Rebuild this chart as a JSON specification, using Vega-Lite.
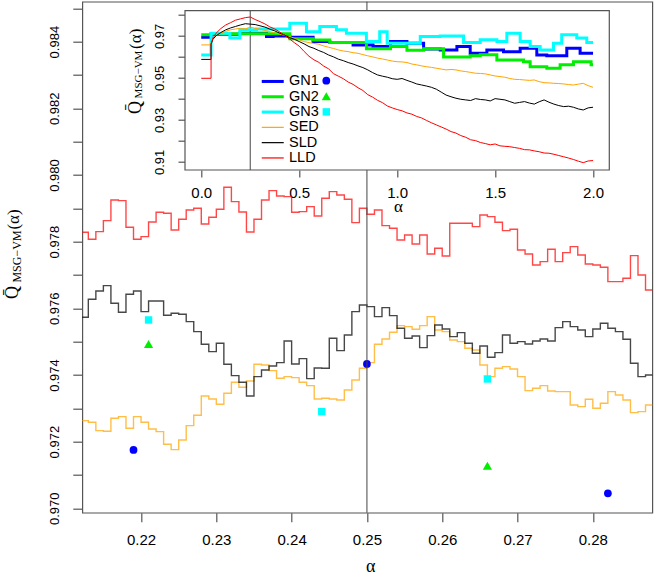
{
"$schema": "https://vega.github.io/schema/vega-lite/v6.json",
"width": 570, "height": 511,
"autosize": {"type": "none"},
"padding": {"left": 82.3, "top": 1.7, "right": 1.7, "bottom": 63.3},
"background": "white",
"config": {
  "view": {"stroke": "#555", "strokeWidth": 1.2},
  "axis": {"grid": false, "domain": false, "labelFont": "Liberation Sans", "labelColor": "#000", "tickColor": "#555", "tickWidth": 1.2, "titleFont": "Liberation Serif", "titleFontWeight": "normal", "titleColor": "#000"},
  "legend": {"labelFont": "Liberation Sans", "labelColor": "#000", "padding": 0}
},
"datasets": {
  "main": [
    {"a":0.212,"SED":0.97263,"SLD":0.97573,"LLD":0.97828},
    {"a":0.213,"SED":0.97258,"SLD":0.97627,"LLD":0.97807},
    {"a":0.214,"SED":0.97233,"SLD":0.97652,"LLD":0.97830},
    {"a":0.215,"SED":0.97231,"SLD":0.97668,"LLD":0.97863},
    {"a":0.216,"SED":0.97270,"SLD":0.97615,"LLD":0.97925},
    {"a":0.217,"SED":0.97275,"SLD":0.97588,"LLD":0.97923},
    {"a":0.218,"SED":0.97240,"SLD":0.97642,"LLD":0.97843},
    {"a":0.219,"SED":0.97275,"SLD":0.97652,"LLD":0.97807},
    {"a":0.220,"SED":0.97258,"SLD":0.97590,"LLD":0.97815},
    {"a":0.221,"SED":0.97238,"SLD":0.97622,"LLD":0.97859},
    {"a":0.222,"SED":0.97230,"SLD":0.97622,"LLD":0.97888},
    {"a":0.223,"SED":0.97192,"SLD":0.97579,"LLD":0.97885},
    {"a":0.224,"SED":0.97176,"SLD":0.97585,"LLD":0.97835},
    {"a":0.225,"SED":0.97205,"SLD":0.97582,"LLD":0.97867},
    {"a":0.226,"SED":0.97248,"SLD":0.97560,"LLD":0.97895},
    {"a":0.227,"SED":0.97279,"SLD":0.97530,"LLD":0.97900},
    {"a":0.228,"SED":0.97337,"SLD":0.97492,"LLD":0.97853},
    {"a":0.229,"SED":0.97328,"SLD":0.97470,"LLD":0.97873},
    {"a":0.230,"SED":0.97312,"SLD":0.97495,"LLD":0.97897},
    {"a":0.231,"SED":0.97345,"SLD":0.97432,"LLD":0.97963},
    {"a":0.232,"SED":0.97378,"SLD":0.97398,"LLD":0.97920},
    {"a":0.233,"SED":0.97363,"SLD":0.97378,"LLD":0.97889},
    {"a":0.234,"SED":0.97382,"SLD":0.97337,"LLD":0.97829},
    {"a":0.235,"SED":0.97432,"SLD":0.97395,"LLD":0.97867},
    {"a":0.236,"SED":0.97430,"SLD":0.97415,"LLD":0.97925},
    {"a":0.237,"SED":0.97413,"SLD":0.97427,"LLD":0.97953},
    {"a":0.238,"SED":0.97390,"SLD":0.97437,"LLD":0.97937},
    {"a":0.239,"SED":0.97395,"SLD":0.97502,"LLD":0.97935},
    {"a":0.240,"SED":0.97392,"SLD":0.97433,"LLD":0.97888},
    {"a":0.241,"SED":0.97378,"SLD":0.97449,"LLD":0.97890},
    {"a":0.242,"SED":0.97368,"SLD":0.97389,"LLD":0.97905},
    {"a":0.243,"SED":0.97328,"SLD":0.97421,"LLD":0.97877},
    {"a":0.244,"SED":0.97330,"SLD":0.97420,"LLD":0.97930},
    {"a":0.245,"SED":0.97328,"SLD":0.97510,"LLD":0.97950},
    {"a":0.246,"SED":0.97325,"SLD":0.97473,"LLD":0.97940},
    {"a":0.247,"SED":0.97355,"SLD":0.97520,"LLD":0.97927},
    {"a":0.248,"SED":0.97385,"SLD":0.97590,"LLD":0.97857},
    {"a":0.249,"SED":0.97420,"SLD":0.97610,"LLD":0.97900},
    {"a":0.250,"SED":0.97437,"SLD":0.97605,"LLD":0.97882},
    {"a":0.251,"SED":0.97492,"SLD":0.97575,"LLD":0.97895},
    {"a":0.252,"SED":0.97508,"SLD":0.97602,"LLD":0.97848},
    {"a":0.253,"SED":0.97528,"SLD":0.97578,"LLD":0.97840},
    {"a":0.254,"SED":0.97548,"SLD":0.97540,"LLD":0.97805},
    {"a":0.255,"SED":0.97545,"SLD":0.97510,"LLD":0.97820},
    {"a":0.256,"SED":0.97537,"SLD":0.97517,"LLD":0.97793},
    {"a":0.257,"SED":0.97548,"SLD":0.97482,"LLD":0.97820},
    {"a":0.258,"SED":0.97575,"SLD":0.97518,"LLD":0.97763},
    {"a":0.259,"SED":0.97535,"SLD":0.97550,"LLD":0.97780},
    {"a":0.260,"SED":0.97530,"SLD":0.97538,"LLD":0.97757},
    {"a":0.261,"SED":0.97505,"SLD":0.97515,"LLD":0.97855},
    {"a":0.262,"SED":0.97500,"SLD":0.97527,"LLD":0.97855},
    {"a":0.263,"SED":0.97480,"SLD":0.97495,"LLD":0.97855},
    {"a":0.264,"SED":0.97475,"SLD":0.97465,"LLD":0.97845},
    {"a":0.265,"SED":0.97430,"SLD":0.97487,"LLD":0.97880},
    {"a":0.266,"SED":0.97395,"SLD":0.97453,"LLD":0.97875},
    {"a":0.267,"SED":0.97420,"SLD":0.97467,"LLD":0.97858},
    {"a":0.268,"SED":0.97425,"SLD":0.97520,"LLD":0.97833},
    {"a":0.269,"SED":0.97418,"SLD":0.97495,"LLD":0.97837},
    {"a":0.270,"SED":0.97395,"SLD":0.97500,"LLD":0.97775},
    {"a":0.271,"SED":0.97353,"SLD":0.97493,"LLD":0.97763},
    {"a":0.272,"SED":0.97360,"SLD":0.97502,"LLD":0.97730},
    {"a":0.273,"SED":0.97368,"SLD":0.97508,"LLD":0.97740},
    {"a":0.274,"SED":0.97352,"SLD":0.97502,"LLD":0.97777},
    {"a":0.275,"SED":0.97350,"SLD":0.97542,"LLD":0.97740},
    {"a":0.276,"SED":0.97350,"SLD":0.97560,"LLD":0.97767},
    {"a":0.277,"SED":0.97310,"SLD":0.97545,"LLD":0.97785},
    {"a":0.278,"SED":0.97305,"SLD":0.97535,"LLD":0.97760},
    {"a":0.279,"SED":0.97327,"SLD":0.97515,"LLD":0.97733},
    {"a":0.280,"SED":0.97300,"SLD":0.97538,"LLD":0.97730},
    {"a":0.281,"SED":0.97315,"SLD":0.97555,"LLD":0.97723},
    {"a":0.282,"SED":0.97350,"SLD":0.97540,"LLD":0.97680},
    {"a":0.283,"SED":0.97340,"SLD":0.97530,"LLD":0.97680},
    {"a":0.284,"SED":0.97325,"SLD":0.97507,"LLD":0.97690},
    {"a":0.285,"SED":0.97287,"SLD":0.97435,"LLD":0.97758},
    {"a":0.286,"SED":0.97290,"SLD":0.97395,"LLD":0.97700},
    {"a":0.287,"SED":0.97310,"SLD":0.97400,"LLD":0.97655},
    {"a":0.288,"SED":0.97310,"SLD":0.97400,"LLD":0.97655}
  ],
  "pts": [
    {"a":0.219,"q":0.97175,"s":"GN1"},
    {"a":0.250,"q":0.97433,"s":"GN1"},
    {"a":0.282,"q":0.97045,"s":"GN1"},
    {"a":0.221,"q":0.97493,"s":"GN2"},
    {"a":0.266,"q":0.97128,"s":"GN2"},
    {"a":0.221,"q":0.97565,"s":"GN3"},
    {"a":0.244,"q":0.97290,"s":"GN3"},
    {"a":0.266,"q":0.97388,"s":"GN3"}
  ],
  "inset": [
    {"a":0,"SED":0.9657,"SLD":0.9588,"LLD":0.9498},
    {"a":0.05,"SED":0.9657,"SLD":0.9588,"LLD":0.9498},
    {"a":0.0501,"SED":0.9672,"SLD":0.966,"LLD":0.9662},
    {"a":0.06,"SED":0.9688,"SLD":0.9684,"LLD":0.969},
    {"a":0.075,"SED":0.97,"SLD":0.97,"LLD":0.9712},
    {"a":0.1,"SED":0.9713,"SLD":0.9716,"LLD":0.9735},
    {"a":0.125,"SED":0.9722,"SLD":0.9729,"LLD":0.9752},
    {"a":0.15,"SED":0.9729,"SLD":0.9738,"LLD":0.9763},
    {"a":0.175,"SED":0.9733,"SLD":0.9745,"LLD":0.9775},
    {"a":0.2,"SED":0.9736,"SLD":0.9752,"LLD":0.9781},
    {"a":0.225,"SED":0.9733,"SLD":0.9758,"LLD":0.9787},
    {"a":0.25,"SED":0.9742,"SLD":0.9756,"LLD":0.979},
    {"a":0.275,"SED":0.9736,"SLD":0.9754,"LLD":0.9778},
    {"a":0.3,"SED":0.9732,"SLD":0.9748,"LLD":0.9768},
    {"a":0.325,"SED":0.9726,"SLD":0.9742,"LLD":0.9757},
    {"a":0.35,"SED":0.972,"SLD":0.9732,"LLD":0.9743},
    {"a":0.375,"SED":0.9714,"SLD":0.9724,"LLD":0.9733},
    {"a":0.4,"SED":0.9709,"SLD":0.9713,"LLD":0.9719},
    {"a":0.425,"SED":0.9703,"SLD":0.9704,"LLD":0.9703},
    {"a":0.45,"SED":0.9697,"SLD":0.9692,"LLD":0.9686},
    {"a":0.475,"SED":0.9689,"SLD":0.9684,"LLD":0.9668},
    {"a":0.5,"SED":0.9681,"SLD":0.9673,"LLD":0.9651},
    {"a":0.525,"SED":0.9673,"SLD":0.9662,"LLD":0.9626},
    {"a":0.55,"SED":0.9668,"SLD":0.9649,"LLD":0.9603},
    {"a":0.575,"SED":0.9664,"SLD":0.9641,"LLD":0.9586},
    {"a":0.6,"SED":0.966,"SLD":0.963,"LLD":0.9574},
    {"a":0.625,"SED":0.9652,"SLD":0.9621,"LLD":0.9556},
    {"a":0.65,"SED":0.9646,"SLD":0.9609,"LLD":0.9543},
    {"a":0.675,"SED":0.964,"SLD":0.96,"LLD":0.952},
    {"a":0.7,"SED":0.9633,"SLD":0.9589,"LLD":0.9508},
    {"a":0.725,"SED":0.9628,"SLD":0.9582,"LLD":0.9496},
    {"a":0.75,"SED":0.9625,"SLD":0.9573,"LLD":0.948},
    {"a":0.775,"SED":0.962,"SLD":0.9566,"LLD":0.9469},
    {"a":0.8,"SED":0.9617,"SLD":0.9557,"LLD":0.9453},
    {"a":0.825,"SED":0.9611,"SLD":0.9549,"LLD":0.944},
    {"a":0.85,"SED":0.9605,"SLD":0.9538,"LLD":0.942},
    {"a":0.875,"SED":0.96,"SLD":0.9525,"LLD":0.9408},
    {"a":0.9,"SED":0.9594,"SLD":0.9514,"LLD":0.9393},
    {"a":0.925,"SED":0.959,"SLD":0.9508,"LLD":0.9382},
    {"a":0.95,"SED":0.9585,"SLD":0.9503,"LLD":0.9366},
    {"a":0.975,"SED":0.958,"SLD":0.9496,"LLD":0.9357},
    {"a":1.0,"SED":0.9577,"SLD":0.9493,"LLD":0.9349},
    {"a":1.025,"SED":0.9576,"SLD":0.9497,"LLD":0.9343},
    {"a":1.05,"SED":0.9573,"SLD":0.9488,"LLD":0.9333},
    {"a":1.075,"SED":0.9566,"SLD":0.948,"LLD":0.9327},
    {"a":1.1,"SED":0.9562,"SLD":0.9471,"LLD":0.9316},
    {"a":1.125,"SED":0.9557,"SLD":0.9466,"LLD":0.9309},
    {"a":1.15,"SED":0.9553,"SLD":0.9461,"LLD":0.9297},
    {"a":1.175,"SED":0.955,"SLD":0.9455,"LLD":0.9286},
    {"a":1.2,"SED":0.9546,"SLD":0.9446,"LLD":0.9276},
    {"a":1.225,"SED":0.9542,"SLD":0.9432,"LLD":0.9266},
    {"a":1.25,"SED":0.9538,"SLD":0.9418,"LLD":0.9256},
    {"a":1.275,"SED":0.954,"SLD":0.941,"LLD":0.9244},
    {"a":1.3,"SED":0.9538,"SLD":0.9403,"LLD":0.9237},
    {"a":1.325,"SED":0.9533,"SLD":0.9398,"LLD":0.9225},
    {"a":1.35,"SED":0.953,"SLD":0.9395,"LLD":0.9217},
    {"a":1.375,"SED":0.9526,"SLD":0.9392,"LLD":0.9205},
    {"a":1.4,"SED":0.9522,"SLD":0.9401,"LLD":0.9201},
    {"a":1.425,"SED":0.9521,"SLD":0.9397,"LLD":0.9192},
    {"a":1.45,"SED":0.9519,"SLD":0.9395,"LLD":0.9187},
    {"a":1.475,"SED":0.9514,"SLD":0.939,"LLD":0.9181},
    {"a":1.5,"SED":0.9509,"SLD":0.9401,"LLD":0.9185},
    {"a":1.525,"SED":0.9506,"SLD":0.9398,"LLD":0.9176},
    {"a":1.55,"SED":0.9503,"SLD":0.9395,"LLD":0.9174},
    {"a":1.575,"SED":0.9497,"SLD":0.9387,"LLD":0.9172},
    {"a":1.6,"SED":0.9493,"SLD":0.9379,"LLD":0.9168},
    {"a":1.625,"SED":0.9492,"SLD":0.9383,"LLD":0.9164},
    {"a":1.65,"SED":0.949,"SLD":0.9387,"LLD":0.9158},
    {"a":1.675,"SED":0.9488,"SLD":0.938,"LLD":0.9157},
    {"a":1.7,"SED":0.949,"SLD":0.9375,"LLD":0.9152},
    {"a":1.725,"SED":0.9482,"SLD":0.9386,"LLD":0.9148},
    {"a":1.75,"SED":0.9477,"SLD":0.9395,"LLD":0.9142},
    {"a":1.775,"SED":0.9476,"SLD":0.9384,"LLD":0.9141},
    {"a":1.8,"SED":0.9474,"SLD":0.9375,"LLD":0.9136},
    {"a":1.825,"SED":0.9473,"SLD":0.9368,"LLD":0.913},
    {"a":1.85,"SED":0.9471,"SLD":0.9363,"LLD":0.9124},
    {"a":1.875,"SED":0.9468,"SLD":0.9365,"LLD":0.9118},
    {"a":1.9,"SED":0.9466,"SLD":0.936,"LLD":0.9111},
    {"a":1.925,"SED":0.947,"SLD":0.9352,"LLD":0.9103},
    {"a":1.95,"SED":0.9474,"SLD":0.9347,"LLD":0.9096},
    {"a":1.975,"SED":0.9463,"SLD":0.9357,"LLD":0.9104},
    {"a":2.0,"SED":0.9455,"SLD":0.936,"LLD":0.9106}
  ],
  "gn": [
    {"a":0,"q":0.9694,"s":"GN1"},{"a":0.05,"q":0.9708,"s":"GN1"},{"a":0.197,"q":0.9713,"s":"GN1"},{"a":0.333,"q":0.9697,"s":"GN1"},{"a":0.367,"q":0.97,"s":"GN1"},{"a":0.452,"q":0.9694,"s":"GN1"},{"a":0.571,"q":0.9673,"s":"GN1"},{"a":0.656,"q":0.9668,"s":"GN1"},{"a":0.775,"q":0.9657,"s":"GN1"},{"a":0.877,"q":0.9649,"s":"GN1"},{"a":0.966,"q":0.9673,"s":"GN1"},{"a":1.05,"q":0.9665,"s":"GN1"},{"a":1.135,"q":0.9637,"s":"GN1"},{"a":1.22,"q":0.9633,"s":"GN1"},{"a":1.305,"q":0.9649,"s":"GN1"},{"a":1.373,"q":0.9617,"s":"GN1"},{"a":1.458,"q":0.9633,"s":"GN1"},{"a":1.543,"q":0.9625,"s":"GN1"},{"a":1.628,"q":0.9641,"s":"GN1"},{"a":1.713,"q":0.9609,"s":"GN1"},{"a":1.764,"q":0.9605,"s":"GN1"},{"a":1.866,"q":0.9641,"s":"GN1"},{"a":1.934,"q":0.9617,"s":"GN1"},{"a":2.0,"q":0.9617,"s":"GN1"},
    {"a":0,"q":0.9705,"s":"GN2"},{"a":0.05,"q":0.971,"s":"GN2"},{"a":0.452,"q":0.9686,"s":"GN2"},{"a":0.571,"q":0.968,"s":"GN2"},{"a":0.656,"q":0.9668,"s":"GN2"},{"a":0.843,"q":0.9639,"s":"GN2"},{"a":0.966,"q":0.9649,"s":"GN2"},{"a":1.05,"q":0.9631,"s":"GN2"},{"a":1.135,"q":0.9639,"s":"GN2"},{"a":1.237,"q":0.9599,"s":"GN2"},{"a":1.373,"q":0.9605,"s":"GN2"},{"a":1.424,"q":0.961,"s":"GN2"},{"a":1.509,"q":0.9585,"s":"GN2"},{"a":1.645,"q":0.9577,"s":"GN2"},{"a":1.679,"q":0.9553,"s":"GN2"},{"a":1.764,"q":0.9546,"s":"GN2"},{"a":1.832,"q":0.9562,"s":"GN2"},{"a":1.9,"q":0.9577,"s":"GN2"},{"a":1.99,"q":0.9562,"s":"GN2"},{"a":2.0,"q":0.9562,"s":"GN2"},
    {"a":0,"q":0.9609,"s":"GN3"},{"a":0.05,"q":0.9713,"s":"GN3"},{"a":0.146,"q":0.969,"s":"GN3"},{"a":0.197,"q":0.9729,"s":"GN3"},{"a":0.282,"q":0.9733,"s":"GN3"},{"a":0.452,"q":0.976,"s":"GN3"},{"a":0.537,"q":0.972,"s":"GN3"},{"a":0.605,"q":0.9745,"s":"GN3"},{"a":0.69,"q":0.9729,"s":"GN3"},{"a":0.741,"q":0.9713,"s":"GN3"},{"a":0.843,"q":0.9673,"s":"GN3"},{"a":0.911,"q":0.972,"s":"GN3"},{"a":0.949,"q":0.9665,"s":"GN3"},{"a":1.118,"q":0.9697,"s":"GN3"},{"a":1.22,"q":0.97,"s":"GN3"},{"a":1.339,"q":0.9668,"s":"GN3"},{"a":1.424,"q":0.9681,"s":"GN3"},{"a":1.509,"q":0.9673,"s":"GN3"},{"a":1.56,"q":0.9713,"s":"GN3"},{"a":1.628,"q":0.9673,"s":"GN3"},{"a":1.679,"q":0.9649,"s":"GN3"},{"a":1.73,"q":0.9633,"s":"GN3"},{"a":1.798,"q":0.9665,"s":"GN3"},{"a":1.84,"q":0.9705,"s":"GN3"},{"a":1.917,"q":0.969,"s":"GN3"},{"a":1.968,"q":0.9668,"s":"GN3"},{"a":2.0,"q":0.9668,"s":"GN3"}
  ]
},
"layer": [
  {
    "layer": [
      {
        "data": {"name": "main"},
        "transform": [{"fold": ["SED", "SLD", "LLD"], "as": ["s", "q"]}],
        "mark": {"type": "line", "interpolate": "step-after", "strokeWidth": 1.4, "opacity": 0.72, "clip": true},
        "encoding": {
          "x": {"field": "a", "type": "quantitative",
                "scale": {"domain": [0.2122, 0.2879], "nice": false, "zero": false},
                "axis": {"values": [0.22, 0.23, 0.24, 0.25, 0.26, 0.27, 0.28], "format": ".2f", "labelFontSize": 15, "tickSize": 9, "labelPadding": 11, "title": "α", "titleFontSize": 18, "titleX": 288, "titleY": 54, "titleBaseline": "middle"}},
          "y": {"field": "q", "type": "quantitative",
                "scale": {"domain": [0.969868, 0.985198], "nice": false, "zero": false},
                "axis": {"values": [0.970, 0.971, 0.972, 0.973, 0.974, 0.975, 0.976, 0.977, 0.978, 0.979, 0.980, 0.981, 0.982, 0.983, 0.984, 0.985],
                         "labelExpr": "abs(round(datum.value*1000)) % 2 == 0 ? format(datum.value, '.3f') : ''",
                         "labelAngle": 270, "labelAlign": "center", "labelBaseline": "bottom", "labelFontSize": 13, "labelPadding": 11, "tickSize": 9.5,
                         "title": "Q\u0304", "titleFontSize": 18, "titleAngle": 270, "titleAlign": "center", "titleBaseline": "middle", "titleX": -69.8, "titleY": 290.3}},
          "color": {"field": "s", "type": "nominal", "scale": {"domain": ["SED", "SLD", "LLD"], "range": ["#FFA500", "#000000", "#FF0000"]}, "legend": null}
        }
      },
      {
        "data": {"name": "pts"},
        "transform": [{"filter": "datum.s == 'GN1'"}],
        "mark": {"type": "point", "filled": true, "opacity": 1, "shape": "circle", "size": 60},
        "encoding": {
          "x": {"field": "a", "type": "quantitative", "scale": {"domain": [0.2122, 0.2879], "nice": false, "zero": false}},
          "y": {"field": "q", "type": "quantitative", "scale": {"domain": [0.969868, 0.985198], "nice": false, "zero": false},
                "axis": {"orient": "left", "labels": false, "ticks": false, "title": "MSG−VM", "titleFontSize": 12, "titleAngle": 270, "titleAlign": "center", "titleBaseline": "middle", "titleX": -66.3, "titleY": 254.3}},
          "color": {"field": "s", "type": "nominal", "scale": {"domain": ["GN1"], "range": ["#0000FF"]},
                    "legend": {"orient": "none", "legendX": 237, "legendY": 72, "title": null, "labelExpr": "''", "labelFontSize": 14, "symbolType": "circle", "symbolSize": 60}}
        }
      },
      {
        "data": {"name": "pts"},
        "transform": [{"filter": "datum.s == 'GN2'"}],
        "mark": {"type": "point", "filled": true, "opacity": 1, "shape": "triangle-up", "size": 85},
        "encoding": {
          "x": {"field": "a", "type": "quantitative", "scale": {"domain": [0.2122, 0.2879], "nice": false, "zero": false}},
          "y": {"field": "q", "type": "quantitative", "scale": {"domain": [0.969868, 0.985198], "nice": false, "zero": false}, "axis": null},
          "color": {"field": "s", "type": "nominal", "scale": {"domain": ["GN2"], "range": ["#00EE00"]},
                    "legend": {"orient": "none", "legendX": 237, "legendY": 87.6, "title": null, "labelExpr": "''", "labelFontSize": 14, "symbolType": "triangle-up", "symbolSize": 85}}
        }
      },
      {
        "data": {"name": "pts"},
        "transform": [{"filter": "datum.s == 'GN3'"}],
        "mark": {"type": "point", "filled": true, "opacity": 1, "shape": "square", "size": 55},
        "encoding": {
          "x": {"field": "a", "type": "quantitative", "scale": {"domain": [0.2122, 0.2879], "nice": false, "zero": false}},
          "y": {"field": "q", "type": "quantitative", "scale": {"domain": [0.969868, 0.985198], "nice": false, "zero": false}, "axis": null},
          "color": {"field": "s", "type": "nominal", "scale": {"domain": ["GN3"], "range": ["#00FFFF"]},
                    "legend": {"orient": "none", "legendX": 237, "legendY": 103.2, "title": null, "labelExpr": "''", "labelFontSize": 14, "symbolType": "square", "symbolSize": 55}}
        }
      },
      {
        "data": {"values": [{}]},
        "mark": {"type": "rule", "color": "#444", "strokeWidth": 1},
        "encoding": {
          "x": {"datum": 0.25, "type": "quantitative", "scale": {"domain": [0.2122, 0.2879], "nice": false, "zero": false}},
          "y": {"datum": 0.969868, "type": "quantitative", "scale": {"domain": [0.969868, 0.985198], "nice": false, "zero": false},
                "axis": {"orient": "left", "labels": false, "ticks": false, "title": "(α)", "titleFontSize": 17, "titleAngle": 270, "titleAlign": "center", "titleBaseline": "middle", "titleX": -69.3, "titleY": 217.3}},
          "y2": {"datum": 0.985198}
        }
      }
    ],
    "resolve": {"scale": {"color": "independent"}, "axis": {"y": "independent"}}
  },
  {
    "layer": [
      {
        "data": {"values": [{}]},
        "mark": {"type": "rect", "fill": "white", "stroke": "#555", "strokeWidth": 1.2},
        "encoding": {
          "x": {"datum": -0.083, "type": "quantitative",
                "scale": {"domain": [-0.083, 2.083], "range": [102.7, 527], "nice": false, "zero": false},
                "axis": {"orient": "bottom", "offset": -342.7, "values": [0, 0.5, 1, 1.5, 2], "format": ".1f", "labelFontSize": 15, "tickSize": 7, "labelPadding": 8, "title": "α", "titleFontSize": 17, "titleX": 315.7, "titleY": 36, "titleBaseline": "middle"}},
          "x2": {"datum": 2.083},
          "y": {"datum": 0.9061, "type": "quantitative",
                "scale": {"domain": [0.9061, 0.982], "range": [168.3, 9], "nice": false, "zero": false},
                "axis": {"orient": "left", "offset": -102.7, "values": [0.91, 0.92, 0.93, 0.94, 0.95, 0.96, 0.97, 0.98],
                         "labelExpr": "round(datum.value*100) % 2 == 1 ? format(datum.value, '.2f') : ''",
                         "labelAngle": 270, "labelAlign": "center", "labelBaseline": "bottom", "labelFontSize": 13, "labelPadding": 12, "tickSize": 7,
                         "title": "Q\u0304", "titleFontSize": 18, "titleAngle": 270, "titleAlign": "center", "titleBaseline": "middle", "titleX": -50, "titleY": 105.3}},
          "y2": {"datum": 0.982}
        }
      },
      {
        "data": {"values": [{}]},
        "mark": {"type": "rule", "color": "#444", "strokeWidth": 1},
        "encoding": {
          "x": {"datum": 0.25, "type": "quantitative", "scale": {"domain": [-0.083, 2.083], "range": [102.7, 527], "nice": false, "zero": false}},
          "y": {"datum": 0.9061, "type": "quantitative", "scale": {"domain": [0.9061, 0.982], "range": [168.3, 9], "nice": false, "zero": false},
                "axis": {"orient": "left", "offset": -102.7, "labels": false, "ticks": false, "title": "MSG−VM", "titleFontSize": 11, "titleAngle": 270, "titleAlign": "center", "titleBaseline": "middle", "titleX": -46.5, "titleY": 72.3}},
          "y2": {"datum": 0.982}
        }
      },
      {
        "data": {"name": "gn"},
        "mark": {"type": "line", "interpolate": "step-after", "strokeWidth": 3},
        "encoding": {
          "x": {"field": "a", "type": "quantitative", "scale": {"domain": [-0.083, 2.083], "range": [102.7, 527], "nice": false, "zero": false}},
          "y": {"field": "q", "type": "quantitative", "scale": {"domain": [0.9061, 0.982], "range": [168.3, 9], "nice": false, "zero": false},
                "axis": {"orient": "left", "offset": -102.7, "labels": false, "ticks": false, "title": "(α)", "titleFontSize": 17, "titleAngle": 270, "titleAlign": "center", "titleBaseline": "middle", "titleX": -50, "titleY": 36.6}},
          "color": {"field": "s", "type": "nominal",
                    "scale": {"domain": ["GN1", "GN2", "GN3", "SED", "SLD", "LLD"], "range": ["#0000FF", "#00EE00", "#00FFFF", "#FFA500", "#000000", "#FF0000"]},
                    "legend": {"orient": "none", "legendX": 183.2, "legendY": 72.5, "title": null, "symbolType": "M-2,0H2", "symbolSize": 121, "symbolStrokeWidth": 3, "labelFontSize": 14.5, "labelOffset": 9, "rowPadding": 0.3,
                               "encode": {"symbols": {"update": {"strokeWidth": {"signal": "indexof(['GN1','GN2','GN3'], datum.value) >= 0 ? 3 : 1.2"}}}}}}
        }
      },
      {
        "data": {"name": "inset"},
        "transform": [{"fold": ["SED", "SLD", "LLD"], "as": ["s", "q"]}],
        "mark": {"type": "line", "strokeWidth": 1},
        "encoding": {
          "x": {"field": "a", "type": "quantitative", "scale": {"domain": [-0.083, 2.083], "range": [102.7, 527], "nice": false, "zero": false}},
          "y": {"field": "q", "type": "quantitative", "scale": {"domain": [0.9061, 0.982], "range": [168.3, 9], "nice": false, "zero": false}, "axis": null},
          "color": {"field": "s", "type": "nominal",
                    "scale": {"domain": ["GN1", "GN2", "GN3", "SED", "SLD", "LLD"], "range": ["#0000FF", "#00EE00", "#00FFFF", "#FFA500", "#000000", "#FF0000"]},
                    "legend": {"orient": "none", "legendX": 183.2, "legendY": 72.5, "title": null, "symbolType": "M-2,0H2", "symbolSize": 121, "symbolStrokeWidth": 3, "labelFontSize": 14.5, "labelOffset": 9, "rowPadding": 0.3,
                               "encode": {"symbols": {"update": {"strokeWidth": {"signal": "indexof(['GN1','GN2','GN3'], datum.value) >= 0 ? 3 : 1.2"}}}}}}
        }
      }
    ],
    "resolve": {"axis": {"y": "independent"}}
  }
],
"resolve": {"scale": {"x": "independent", "y": "independent", "color": "independent"}}
}
